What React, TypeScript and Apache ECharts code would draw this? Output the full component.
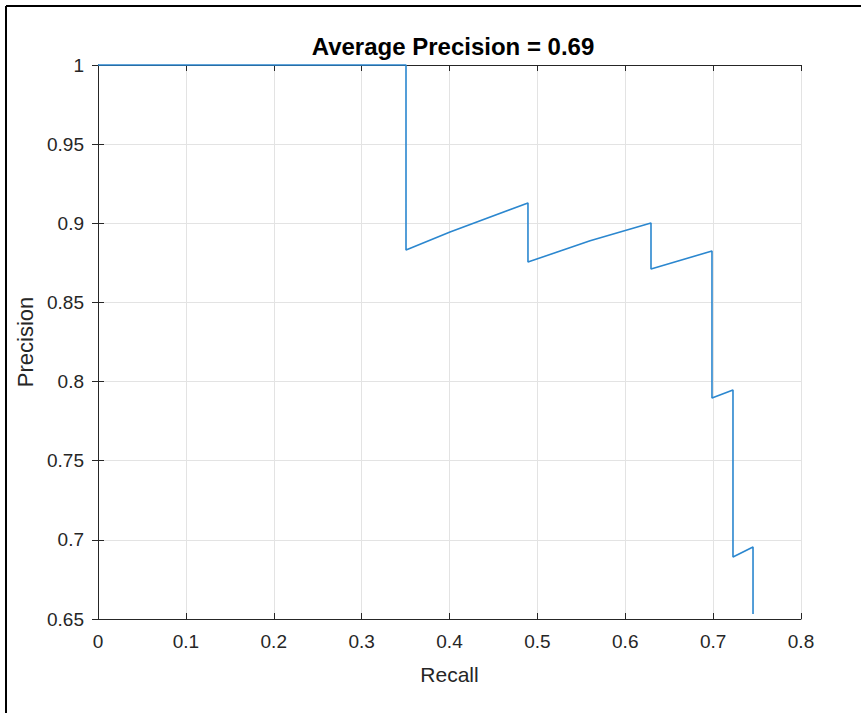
import React, { useEffect, useRef } from "react";
import * as echarts from "echarts";

const recall = [0, 0.3505, 0.3505, 0.4006, 0.4893, 0.4893, 0.56, 0.6293, 0.6293, 0.6987, 0.6987, 0.7226, 0.7226, 0.7454, 0.7454];
const precision = [1, 1, 0.8831, 0.8945, 0.9128, 0.8755, 0.889, 0.9002, 0.8711, 0.8825, 0.7896, 0.7947, 0.6892, 0.6955, 0.6532];
const xTicks = [0, 0.1, 0.2, 0.3, 0.4, 0.5, 0.6, 0.7, 0.8];
const yTicks = [0.65, 0.7, 0.75, 0.8, 0.85, 0.9, 0.95, 1];
const titleText = "Average Precision = 0.69";

const FONT = "'Liberation Sans', Arial, sans-serif";
const AX = "#262626";

export default function App() {
  const ref = useRef<HTMLDivElement>(null);
  useEffect(() => {
    document.body.style.margin = "0";
    const chart = echarts.init(ref.current!, null, { renderer: "svg" });
    const fmtX = (v: number) => {
      const i = xTicks.findIndex((t) => Math.abs(t - v) < 1e-6);
      return i >= 0 ? String(xTicks[i]) : "";
    };
    const fmtY = (v: number) => {
      const i = yTicks.findIndex((t) => Math.abs(t - v) < 1e-6);
      return i >= 0 ? String(yTicks[i]) : "";
    };
    const axisLine = { show: true, lineStyle: { color: AX, width: 1 } };
    chart.setOption({
      animation: false,
      backgroundColor: "#ffffff",
      textStyle: { fontFamily: FONT },
      title: {
        text: titleText,
        left: 448,
        top: 29,
        textAlign: "center",
        textStyle: { fontFamily: FONT, fontSize: 24, fontWeight: "bold", color: "#000" },
      },
      grid: { left: 98, top: 65, width: 703, height: 554, containLabel: false },
      xAxis: [
        {
          type: "value",
          min: 0,
          max: 0.8,
          interval: 0.1,
          name: "Recall",
          nameLocation: "middle",
          nameGap: 45,
          nameTextStyle: { fontFamily: FONT, fontSize: 21, color: AX },
          axisLine,
          axisTick: { show: true, inside: true, length: 6, lineStyle: { color: AX } },
          axisLabel: { formatter: fmtX, fontFamily: FONT, fontSize: 19, color: AX, margin: 13 },
          splitLine: { show: true, lineStyle: { color: "#e3e3e3", width: 1 } },
        },
        {
          type: "value",
          position: "top",
          min: 0,
          max: 0.8,
          interval: 0.1,
          axisLine,
          axisTick: { show: true, inside: true, length: 6, lineStyle: { color: AX } },
          axisLabel: { show: false },
          splitLine: { show: false },
        },
      ],
      yAxis: [
        {
          type: "value",
          min: 0.65,
          max: 1,
          interval: 0.05,
          name: "Precision",
          nameLocation: "middle",
          nameGap: 61,
          nameTextStyle: { fontFamily: FONT, fontSize: 22, color: AX },
          axisLine,
          axisTick: { show: true, inside: true, length: 6, lineStyle: { color: AX } },
          axisLabel: { formatter: fmtY, fontFamily: FONT, fontSize: 19, color: AX, margin: 14 },
          splitLine: { show: true, lineStyle: { color: "#e3e3e3", width: 1 } },
        },
        {
          type: "value",
          position: "right",
          min: 0.65,
          max: 1,
          interval: 0.05,
          axisLine,
          axisTick: { show: true, inside: true, length: 6, lineStyle: { color: AX } },
          axisLabel: { show: false },
          splitLine: { show: false },
        },
      ],
      graphic: [
        { type: "line", shape: { x1: 6, y1: 6, x2: 861, y2: 6 }, style: { stroke: "#000", lineWidth: 2 } },
        { type: "line", shape: { x1: 6, y1: 6, x2: 6, y2: 713 }, style: { stroke: "#000", lineWidth: 2 } },
      ],
      series: [
        {
          type: "line",
          xAxisIndex: 0,
          yAxisIndex: 0,
          symbol: "none",
          clip: false,
          lineStyle: { color: "#2b87cf", width: 1.6 },
          data: recall.map((r, i) => [r, precision[i]]),
          z: 5,
        },
      ],
    });
    return () => chart.dispose();
  }, []);
  return <div ref={ref} style={{ width: 861, height: 713 }} />;
}
